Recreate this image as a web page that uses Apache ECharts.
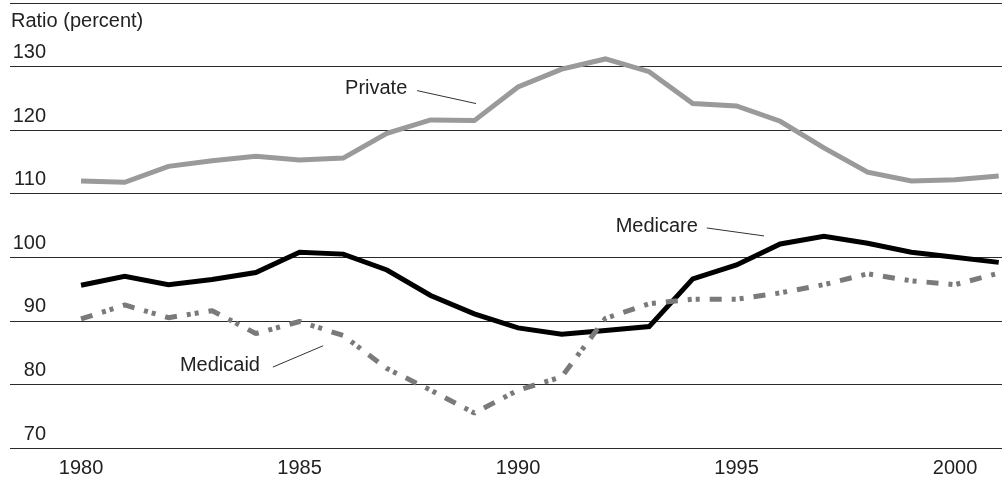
<!DOCTYPE html>
<html>
<head>
<meta charset="utf-8">
<script src="https://cdn.jsdelivr.net/npm/echarts/dist/echarts.min.js"></script>
<style>
  html, body { margin: 0; padding: 0; background: #fff; }
  #chart { width: 1002px; height: 478px; }
</style>
</head>
<body>
<div id="chart"></div>
<script>
// spending ratio, percent, by year
const years = [1980, 1981, 1982, 1983, 1984, 1985, 1986, 1987, 1988, 1989, 1990,
  1991, 1992, 1993, 1994, 1995, 1996, 1997, 1998, 1999, 2000, 2001]
const privateRatio = [112.0, 111.8, 114.3, 115.2, 115.9, 115.3, 115.6, 119.5, 121.6, 121.5, 126.8,
  129.6, 131.2, 129.2, 124.2, 123.8, 121.4, 117.2, 113.4, 112.0, 112.2, 112.8]
const medicareRatio = [95.6, 97.0, 95.7, 96.5, 97.6, 100.8, 100.5, 98.0, 94.0, 91.1, 88.9,
  87.9, 88.5, 89.1, 96.6, 98.8, 102.1, 103.3, 102.2, 100.8, 100.0, 99.2]
const medicaidRatio = [90.3, 92.5, 90.5, 91.6, 88.0, 89.9, 87.7, 82.5, 79.1, 75.5, 79.1,
  81.2, 90.4, 92.7, 93.4, 93.4, 94.4, 95.7, 97.4, 96.3, 95.7, 97.5]
const yearLabels = [1980, 1985, 1990, 1995, 2000]

// leader lines for the series names, in data coordinates [year, ratio]
const privateLeader = [[1987.69, 126.22], [1989.04, 124.18]]
const medicareLeader = [[1994.32, 104.61], [1995.63, 103.36]]
const medicaidLeader = [[1984.39, 82.73], [1985.54, 86.08]]

const textColor = '#222'
const font = 'Liberation Sans, Arial, sans-serif'

function pairs(values) {
  return years.map((y, i) => [y, values[i]])
}

// lift: empty line under the name, pushes the text up by half its height
function leader(name, pts, distance, lift) {
  return {
    silent: true,
    symbol: ['none', 'none'],
    animation: false,
    lineStyle: { color: '#333', width: 1, type: 'solid' },
    label: {
      show: true,
      position: 'start',
      distance: distance,
      formatter: lift ? '{t|' + name + '}\n{s| }' : '{t|' + name + '}',
      rich: {
        t: { color: textColor, fontSize: 20, fontFamily: font, lineHeight: 24 },
        s: { fontSize: 4, lineHeight: lift }
      }
    },
    emphasis: { disabled: true },
    data: [[{ coord: pts[0] }, { coord: pts[1] }]]
  }
}

const chart = echarts.init(document.getElementById('chart'))

const option = {
  animation: false,
  title: {
    text: 'Ratio (percent)',
    left: 11,
    top: 11,
    padding: 0,
    textStyle: { color: textColor, fontSize: 20, fontWeight: 'normal', fontFamily: font }
  },
  grid: { left: 10, right: 0, top: 3, bottom: 28 },
  xAxis: {
    type: 'value',
    min: 1978.375,
    max: 2001.075,
    axisLine: { show: false },
    axisTick: { show: false },
    splitLine: { show: false },
    axisLabel: {
      customValues: yearLabels,
      margin: 10,
      color: textColor,
      fontSize: 20,
      fontFamily: font,
      formatter: v => String(v)
    }
  },
  yAxis: {
    type: 'value',
    min: 70,
    max: 140,
    interval: 10,
    axisLine: { show: false },
    axisTick: { show: false },
    splitLine: { show: true, lineStyle: { color: '#2a2a2a', width: 1 } },
    axisLabel: {
      inside: true,
      margin: 36,
      align: 'right',
      verticalAlign: 'bottom',
      padding: [0, 0, 4, 0],
      color: textColor,
      fontSize: 20,
      fontFamily: font,
      formatter: v => (v === 140 ? '' : String(v))
    }
  },
  series: [
    {
      name: 'Private',
      type: 'line',
      data: pairs(privateRatio),
      showSymbol: false,
      lineStyle: { color: '#9a9a9a', width: 5, join: 'miter' },
      markLine: leader('Private', privateLeader, 10, 0)
    },
    {
      name: 'Medicare',
      type: 'line',
      data: pairs(medicareRatio),
      showSymbol: false,
      lineStyle: { color: '#000', width: 5, join: 'miter' },
      markLine: leader('Medicare', medicareLeader, 9, 0)
    },
    {
      name: 'Medicaid',
      type: 'line',
      data: pairs(medicaidRatio),
      showSymbol: false,
      lineStyle: { color: '#7a7a7a', width: 5, type: [12, 10, 4, 4, 4, 10], cap: 'butt' },
      markLine: leader('Medicaid', medicaidLeader, 14, 14)
    }
  ]
}

chart.setOption(option)
</script>
</body>
</html>
